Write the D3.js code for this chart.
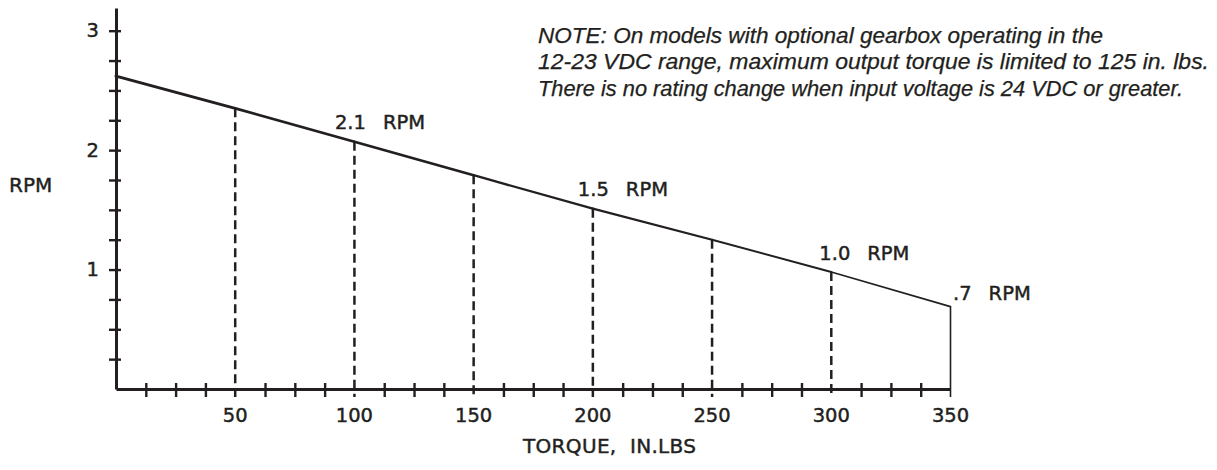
<!DOCTYPE html>
<html>
<head>
<meta charset="utf-8">
<script src="https://cdn.jsdelivr.net/npm/d3@7"></script>
<style>
  html, body { margin: 0; padding: 0; background: #fff; }
  svg { display: block; }
  .lbl { font-family: "DejaVu Sans", sans-serif; fill: #231f20; stroke: #231f20; stroke-width: 0.45px; }
  .note { font-family: "Liberation Sans", Arial, sans-serif; font-style: italic; fill: #231f20; stroke: #231f20; stroke-width: 0.25px; }
</style>
</head>
<body>
<script>
// chart values
const torque = [0, 50, 100, 150, 200, 250, 300, 350]
const rpm = [2.62, 2.35, 2.07, 1.79, 1.51, 1.25, 0.98, 0.69]
const dropTorque = [50, 100, 150, 200, 250, 300]
const rpmLabels = ['2.1', '1.5', '1.0', '.7']
const rpmLabelTorque = [100, 200, 300, 350]
const xMinor = d3.range(12.5, 350, 12.5)
const xTickLabels = [50, 100, 150, 200, 250, 300, 350]
const yTicks = d3.range(0.25, 3.01, 0.25)
const yTickLabels = [1, 2, 3]
const noteLines = [
  'NOTE: On models with optional gearbox operating in the',
  '12-23 VDC range, maximum output torque is limited to 125 in. lbs.',
  'There is no rating change when input voltage is 24 VDC or greater.'
]

const ink = '#231f20'
const width = 1217, height = 470

const svg = d3.select('body').append('svg')
  .attr('width', width)
  .attr('height', height)

const x = d3.scaleLinear().domain([0, 350]).range([116, 950.5])
const y = d3.scaleLinear().domain([0, 3.19]).range([389, 8])

// y axis
const yAxis = svg.append('g')
  .attr('transform', 'translate(' + x(0) + ',0)')
  .call(d3.axisLeft(y).tickValues(yTicks).tickSize(7).tickSizeOuter(0).tickPadding(10)
    .tickFormat(d => yTickLabels.includes(Math.round(d * 100) / 100) ? d3.format('d')(d) : ''))
yAxis.select('.domain').attr('stroke', ink).attr('stroke-width', 3)
yAxis.selectAll('.tick line').attr('x1', -7).attr('x2', 5).attr('stroke', ink).attr('stroke-width', 2.4)
yAxis.selectAll('.tick text').attr('class', 'lbl').style('font-size', '19.5px').attr('fill', ink)

// x axis (only minor ticks come from the axis; majors are the drop lines)
const xAxis = svg.append('g')
  .attr('transform', 'translate(0,' + y(0) + ')')
  .call(d3.axisBottom(x).tickValues(xMinor.filter(d => d % 50 !== 0)).tickSize(8).tickSizeOuter(0).tickFormat(''))
xAxis.select('.domain').attr('stroke', ink).attr('stroke-width', 3)
xAxis.selectAll('.tick line').attr('y1', -6).attr('stroke', ink).attr('stroke-width', 2.4)

svg.append('g').selectAll('text')
  .data(xTickLabels)
  .join('text')
  .attr('class', 'lbl')
  .attr('x', d => x(d))
  .attr('y', y(0) + 33)
  .attr('text-anchor', 'middle')
  .style('font-size', '19.5px')
  .text(d => d)

// rpm value at a torque
const rpmAt = t => rpm[torque.indexOf(t)]

// dashed drop lines
svg.append('g').selectAll('line')
  .data(dropTorque)
  .join('line')
  .attr('x1', d => x(d)).attr('x2', d => x(d))
  .attr('y1', d => y(rpmAt(d))).attr('y2', y(0) + 8)
  .attr('stroke', ink)
  .attr('stroke-width', 2.5)
  .attr('stroke-dasharray', '9,5')

// solid end line at max torque
svg.append('line')
  .attr('x1', x(350)).attr('x2', x(350))
  .attr('y1', y(rpmAt(350))).attr('y2', y(0) + 8)
  .attr('stroke', ink)
  .attr('stroke-width', 1.6)

// torque curve, drawn in segments so the pen thins toward the right
const segs = d3.pairs(torque.map((t, i) => [t, rpm[i]]))
const widthScale = d3.scaleLinear().domain([0, segs.length - 1]).range([3, 1.7])
svg.append('g').selectAll('line')
  .data(segs)
  .join('line')
  .attr('x1', d => x(d[0][0])).attr('y1', d => y(d[0][1]))
  .attr('x2', d => x(d[1][0])).attr('y2', d => y(d[1][1]))
  .attr('stroke', ink)
  .attr('stroke-linecap', 'round')
  .attr('stroke-width', (d, i) => widthScale(i))

// rpm callouts
const nudge = [[-19.5, -13], [-15, -13], [-12, -12], [2.5, -7]]
const callouts = svg.append('g').selectAll('text')
  .data(rpmLabels)
  .join('text')
  .attr('class', 'lbl')
  .style('font-size', '19.5px')
  .attr('x', (d, i) => x(rpmLabelTorque[i]) + nudge[i][0])
  .attr('y', (d, i) => y(rpmAt(rpmLabelTorque[i])) + nudge[i][1])
callouts.append('tspan').text(d => d)
callouts.append('tspan').attr('dx', 17).text('RPM')

// axis titles
svg.append('text')
  .attr('class', 'lbl')
  .attr('x', 9).attr('y', 191.5)
  .style('font-size', '20px')
  .text('RPM')

svg.append('text')
  .attr('class', 'lbl')
  .attr('x', 523).attr('y', 453)
  .style('font-size', '20px')
  .attr('xml:space', 'preserve')
  .style('white-space', 'pre')
  .attr('textLength', 173)
  .text('TORQUE,  IN.LBS')

// note
const noteWidths = [565, 671, 645]
svg.append('g').selectAll('text')
  .data(noteLines)
  .join('text')
  .attr('class', 'note')
  .attr('x', 538)
  .attr('y', (d, i) => 42.5 + i * 26.5)
  .style('font-size', '21.5px')
  .attr('textLength', (d, i) => noteWidths[i])
  .attr('lengthAdjust', 'spacingAndGlyphs')
  .text(d => d)
</script>
</body>
</html>
